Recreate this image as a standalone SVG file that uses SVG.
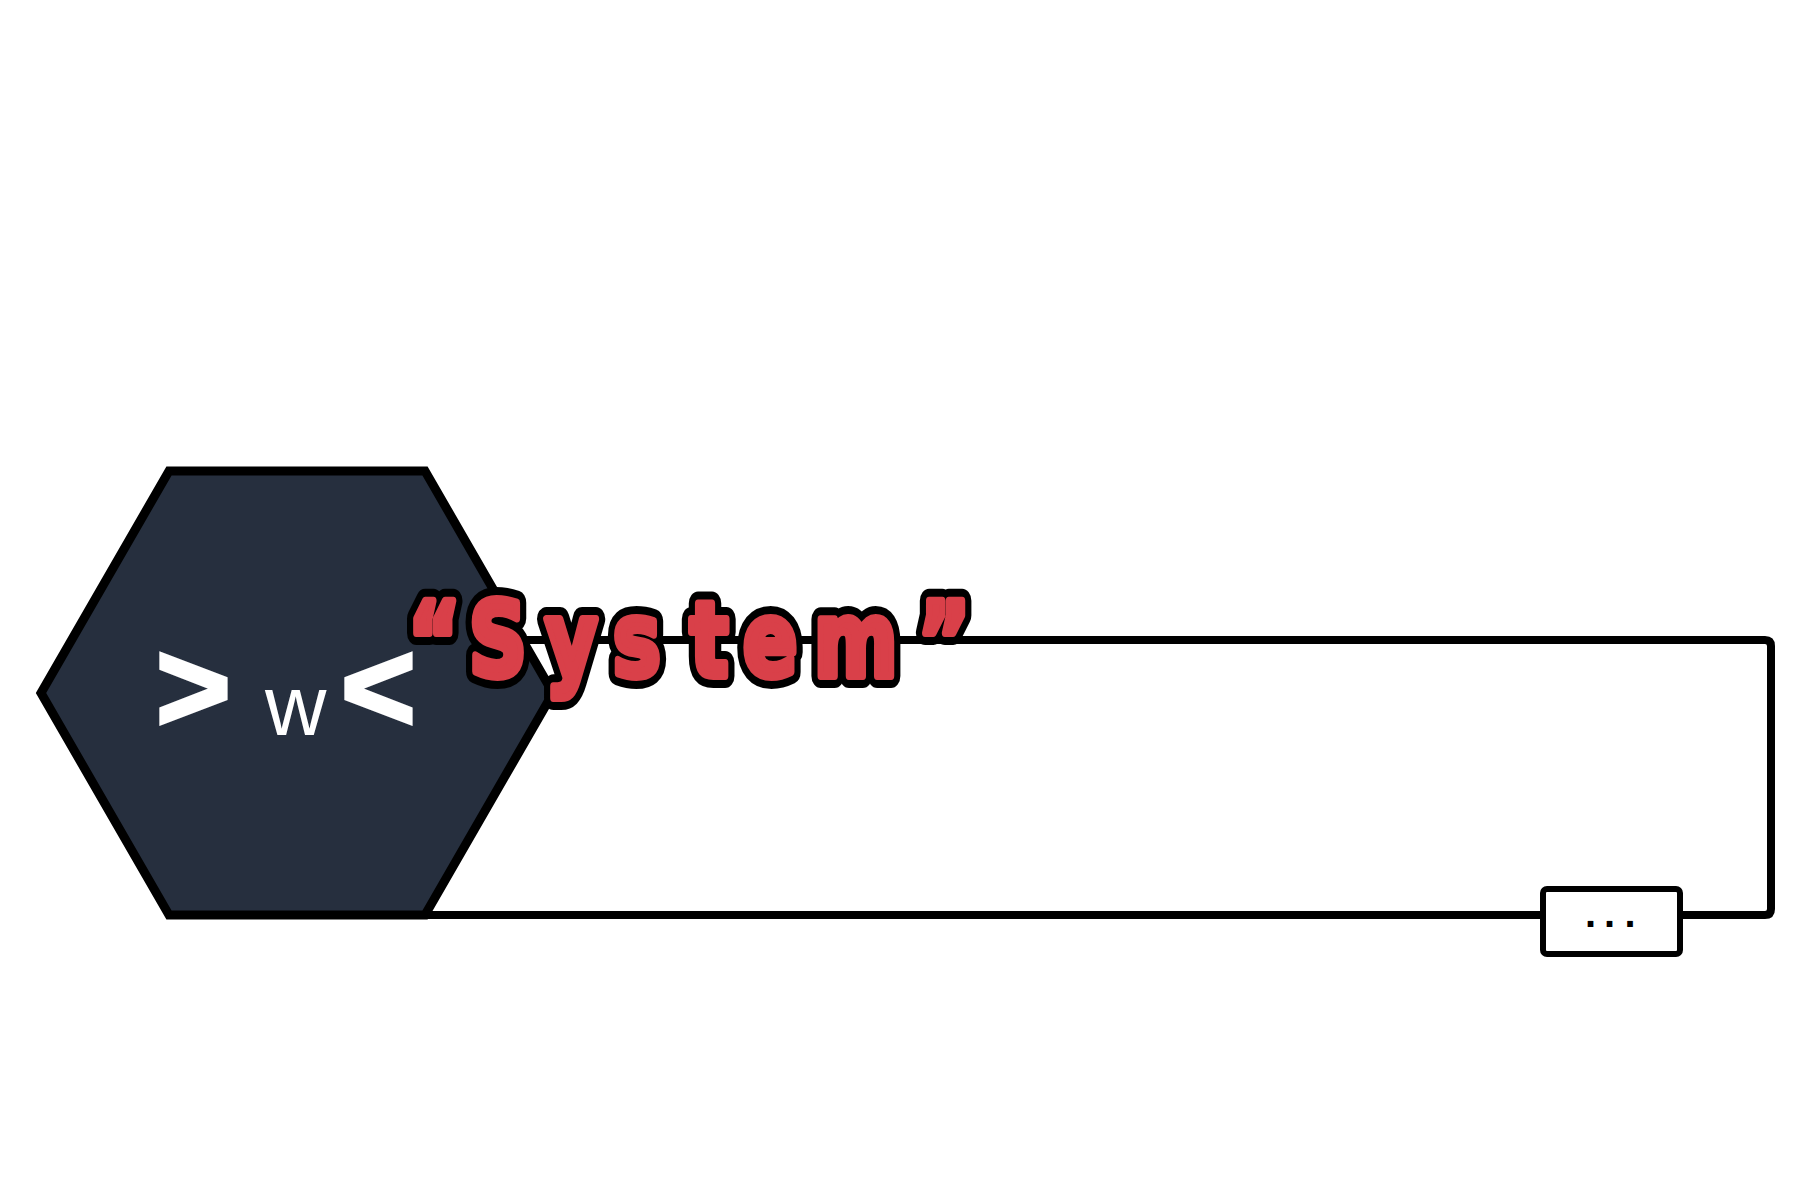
<svg xmlns="http://www.w3.org/2000/svg" xmlns:xlink="http://www.w3.org/1999/xlink" width="1800" height="1200" viewBox="0 0 1800 1200">
<style>
.conn{fill:none;stroke:#000;stroke-width:8;stroke-linejoin:round;stroke-linecap:butt}
.hex{fill:#262f3e;stroke:#000;stroke-width:9;stroke-linejoin:miter}
.face{fill:#fff;font-family:"Liberation Sans",Arial,sans-serif}
.chev{font-weight:bold;font-size:128px;stroke:#fff;stroke-width:4;stroke-linejoin:miter}
.t-out{fill:#000;stroke:#000;stroke-width:24;stroke-linejoin:round}
.t-in{fill:#d94049;stroke:#d94049;stroke-width:8;stroke-linejoin:round}
.lbox{fill:#fff;stroke:#000;stroke-width:6}
.ltext{fill:#000;font-family:"Liberation Mono","DejaVu Sans Mono",monospace;font-weight:bold;font-size:40px}
</style>
<rect width="1800" height="1200" fill="#fff"/>
<g id="connectors">
<path class="conn" d="M 522 640 H 1765 Q 1771 640 1771 646 V 909 Q 1771 915 1765 915 H 425"/>
<g id="connector-label">
<rect class="lbox" x="1543" y="889" width="137" height="65" rx="4"/>
<text class="ltext" x="1578.5 1597.5 1618" y="927">...</text>
</g>
</g>
<g id="node-hexagon">
<polygon class="hex" points="41,693 169,471 425,471 553,693 425,915 169,915"/>
<text class="face" y="731"><tspan class="chev" x="156">&gt;</tspan><tspan x="265" y="735" font-size="85">w</tspan><tspan class="chev" x="341" y="731">&lt;</tspan></text>
<g id="node-title" transform="matrix(0.77 0 0 1 0 0)">
<use xlink:href="#ttl" href="#ttl" class="t-out"/>
<g class="t-in">
<text id="ttl" y="676" x="530 609 708 796 896 965 1057 1192" font-family="DejaVu Sans, Liberation Sans, sans-serif" font-weight="bold" font-size="104">“System”</text>
</g>
</g>
</g>
</svg>
